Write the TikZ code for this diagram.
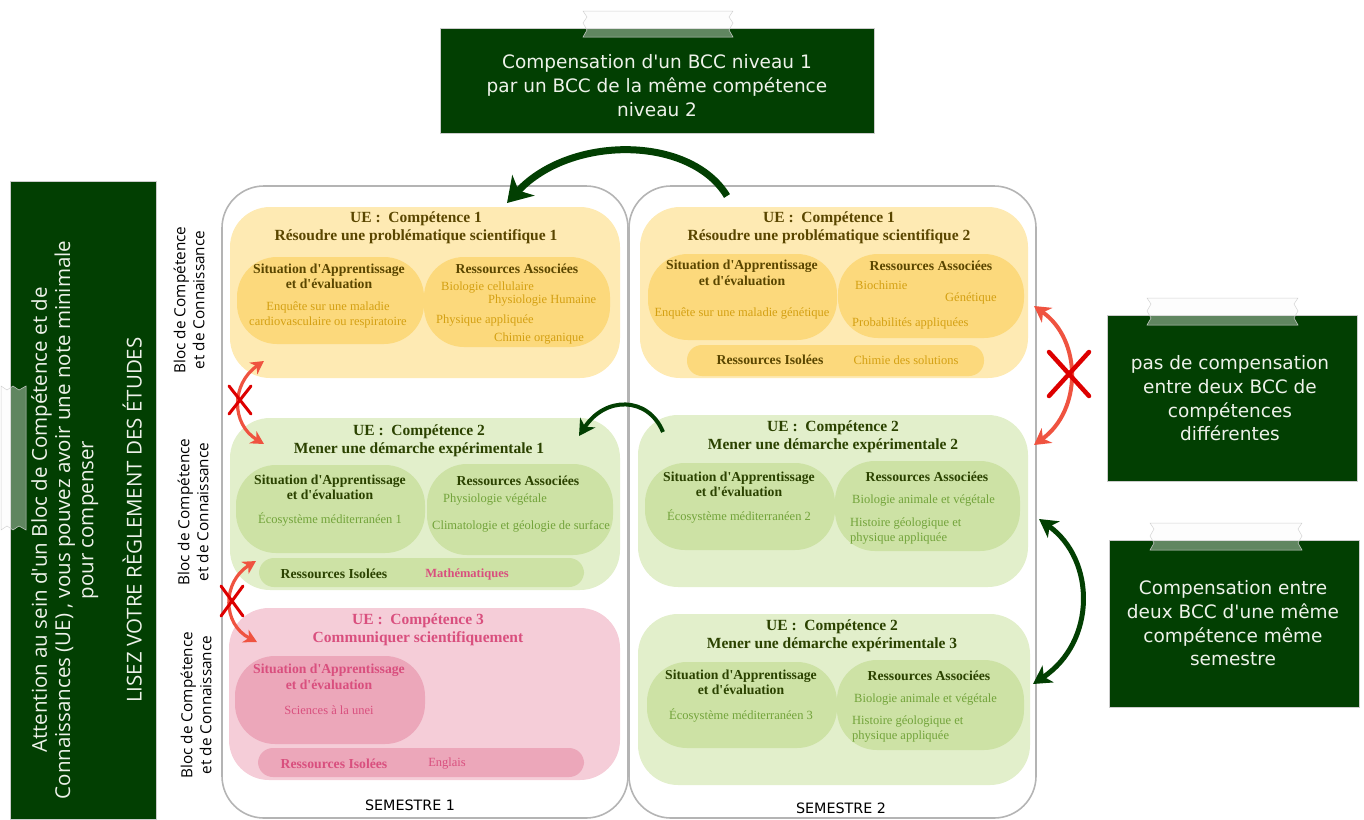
\documentclass[tikz,border=0pt]{standalone}
\usepackage{fontspec}
\setmainfont{Liberation Serif}
\setsansfont{DejaVu Sans}
\newfontfamily\opensans{Open Sans}
\usetikzlibrary{arrows.meta}
\newcommand\apos{\textquotesingle}
\definecolor{dkgreen}{HTML}{023F02}
\definecolor{boxtext}{HTML}{EEF2EA}
\definecolor{yout}{HTML}{FEEAB3}
\definecolor{yin}{HTML}{FCD97C}
\definecolor{ytitle}{HTML}{5A4600}
\definecolor{yitem}{HTML}{D4A012}
\definecolor{gout}{HTML}{E2EFCB}
\definecolor{gin}{HTML}{CDE2A5}
\definecolor{gtitle}{HTML}{2B4200}
\definecolor{gitem}{HTML}{72A33A}
\definecolor{pout}{HTML}{F5CDD8}
\definecolor{pin}{HTML}{ECA7BA}
\definecolor{ptext}{HTML}{D94F7E}
\definecolor{redarrow}{HTML}{EF5340}
\definecolor{redx}{HTML}{DD0000}
\definecolor{semgrey}{HTML}{B4B4B4}
\newcommand\rbox[6]{\node[#6, minimum width={(#4-#2)*1pt}, minimum height={(#5-#3)*1pt}] (#1) at ({(#2+#4)/2},{(#3+#5)/2}) {};}
\tikzset{
  base/.style={inner sep=0pt, outer sep=0pt, draw=none},
  semester/.style={base, rectangle, rounded corners=42pt, draw=semgrey, line width=1.6pt},
  ueyel/.style={base, rectangle, rounded corners=40pt, fill=yout},
  yelin/.style={base, rectangle, rounded corners=40pt, fill=yin},
  yelri/.style={base, rectangle, rounded corners=15pt, fill=yin},
  uegrn/.style={base, rectangle, rounded corners=40pt, fill=gout},
  grnin/.style={base, rectangle, rounded corners=40pt, fill=gin},
  grnri/.style={base, rectangle, rounded corners=15pt, fill=gin},
  uepnk/.style={base, rectangle, rounded corners=40pt, fill=pout},
  pnkin/.style={base, rectangle, rounded corners=40pt, fill=pin},
  pnkri/.style={base, rectangle, rounded corners=15pt, fill=pin},
  darkbox/.style={base, rectangle, fill=dkgreen, draw=gray!40, line width=0.6pt},
  uetitle/.style={inner sep=0pt, align=center, font=\bfseries\fontsize{15.5}{18}\selectfont},
  lbl/.style={inner sep=0pt, align=center, font=\bfseries\fontsize{13.7}{15.5}\selectfont},
  itm/.style={inner sep=0pt, align=left, font=\fontsize{12.5}{15}\selectfont},
  itmc/.style={inner sep=0pt, align=center, font=\fontsize{12.5}{14.5}\selectfont},
  dtext/.style={inner sep=0pt, align=center, text=boxtext, font=\sffamily\fontsize{18.5}{23.7}\selectfont},
  bloc/.style={inner sep=0pt, align=center, rotate=90, font=\opensans\fontsize{15.3}{19}\selectfont},
  semlbl/.style={inner sep=0pt, font=\sffamily\fontsize{14.3}{16}\selectfont},
  tape/.style={fill=white!96!gray, fill opacity=0.38, draw=gray!35, draw opacity=1, line width=0.5pt},
  grarrow/.style={draw=dkgreen, line width=7pt, -{Stealth[length=24pt,width=30pt,inset=7pt]}},
  grarrowm/.style={draw=dkgreen, line width=4pt, -{Stealth[length=16pt,width=18pt,inset=5pt]}},
  grarrowd/.style={draw=dkgreen, line width=5pt, {Stealth[length=18pt,width=20pt,inset=5pt]}-{Stealth[length=18pt,width=20pt,inset=5pt]}},
  rdarrow/.style={draw=redarrow, line width=3.2pt, {Stealth[length=13pt,width=14pt,inset=4pt]}-{Stealth[length=13pt,width=14pt,inset=4pt]}},
  rdarrowb/.style={draw=redarrow, line width=4pt, {Stealth[length=16pt,width=18pt,inset=5pt]}-{Stealth[length=16pt,width=18pt,inset=5pt]}},
  crossx/.style={draw=redx, line width=3pt, line cap=round},
  crossxb/.style={draw=redx, line width=4.5pt, line cap=round},
}
\begin{document}
\begin{tikzpicture}[x=1pt,y=-1pt]
\useasboundingbox (0,0) rectangle (1364,819);

% semesters
\rbox{sem1}{222}{186}{628}{818}{semester}
\rbox{sem2}{629}{186}{1036}{818}{semester}
\node[semlbl] (s1lbl) at (410,805) {SEMESTRE 1};
\node[semlbl] (s2lbl) at (841,808) {SEMESTRE 2};

% ===== UE1 left
\rbox{ueA}{230}{207}{620}{378}{ueyel}
\rbox{ueAsa}{237}{257}{424}{344}{yelin}
\rbox{ueAra}{424}{257}{610}{347}{yelin}
\node[uetitle, text=ytitle] (ueAt) at (416,228) {UE :\ \ Compétence 1\\Résoudre une problématique scientifique 1};
\node[lbl, text=ytitle] (ueAsal) at (329,276.5) {Situation d\apos{}Apprentissage\\et d\apos{}évaluation};
\node[itmc, text=yitem] (ueAsai) at (328,315) {Enquête sur une maladie\\cardiovasculaire ou respiratoire};
\node[lbl, text=ytitle] (ueAral) at (517,269) {Ressources Associées};
\node[itm, text=yitem, anchor=west] (ueAr1) at (441,288) {Biologie cellulaire};
\node[itm, text=yitem, anchor=west] (ueAr2) at (488,301) {Physiologie Humaine};
\node[itm, text=yitem, anchor=west] (ueAr3) at (436,320) {Physique appliquée};
\node[itm, text=yitem, anchor=west] (ueAr4) at (494,339) {Chimie organique};

% ===== UE1 right
\rbox{ueB}{640}{207}{1028}{378}{ueyel}
\rbox{ueBsa}{648}{254}{837}{340}{yelin}
\rbox{ueBra}{838}{254}{1024}{338}{yelin}
\rbox{ueBri}{687}{345}{984}{376}{yelri}
\node[uetitle, text=ytitle] (ueBt) at (829,228) {UE :\ \ Compétence 1\\Résoudre une problématique scientifique 2};
\node[lbl, text=ytitle] (ueBsal) at (742,273) {Situation d\apos{}Apprentissage\\et d\apos{}évaluation};
\node[itmc, text=yitem] (ueBsai) at (742,313) {Enquête sur une maladie génétique};
\node[lbl, text=ytitle] (ueBral) at (931,266) {Ressources Associées};
\node[itm, text=yitem, anchor=west] (ueBr1) at (855,285) {Biochimie};
\node[itm, text=yitem, anchor=west] (ueBr2) at (945,298) {Génétique};
\node[itm, text=yitem, anchor=west] (ueBr3) at (852,323) {Probabilités appliquées};
\node[lbl, text=ytitle] (ueBril) at (770,360) {Ressources Isolées};
\node[itmc, text=yitem] (ueBrii) at (906,360) {Chimie des solutions};

% ===== UE2 left
\rbox{ueC}{230}{418}{620}{590}{uegrn}
\rbox{ueCsa}{236}{465}{425}{553}{grnin}
\rbox{ueCra}{427}{464}{613}{555}{grnin}
\rbox{ueCri}{259}{558}{584}{587}{grnri}
\node[uetitle, text=gtitle] (ueCt) at (419,440.5) {UE :\ \ Compétence 2\\Mener une démarche expérimentale 1};
\node[lbl, text=gtitle] (ueCsal) at (330,487.5) {Situation d\apos{}Apprentissage\\et d\apos{}évaluation};
\node[itmc, text=gitem] (ueCsai) at (330,519) {Écosystème méditerranéen 1};
\node[lbl, text=gtitle] (ueCral) at (518,481) {Ressources Associées};
\node[itm, text=gitem, anchor=west] (ueCr1) at (443,499) {Physiologie végétale};
\node[itm, text=gitem, anchor=west] (ueCr2) at (432,526) {Climatologie et géologie de surface};
\node[lbl, text=gtitle] (ueCril) at (334,574) {Ressources Isolées};
\node[itmc, text=ptext] (ueCrii) at (467,574) {\bfseries Mathématiques};

% ===== UE2 right (2)
\rbox{ueD}{638}{415}{1028}{587}{uegrn}
\rbox{ueDsa}{645}{463}{835}{550}{grnin}
\rbox{ueDra}{835}{461}{1020}{551}{grnin}
\node[uetitle, text=gtitle] (ueDt) at (833,436.5) {UE :\ \ Compétence 2\\Mener une démarche expérimentale 2};
\node[lbl, text=gtitle] (ueDsal) at (739,484.5) {Situation d\apos{}Apprentissage\\et d\apos{}évaluation};
\node[itmc, text=gitem] (ueDsai) at (739,516) {Écosystème méditerranéen 2};
\node[lbl, text=gtitle] (ueDral) at (927,477) {Ressources Associées};
\node[itm, text=gitem, anchor=west] (ueDr1) at (852,500) {Biologie animale et végétale};
\node[itm, text=gitem, anchor=west] (ueDr2) at (850,530.5) {Histoire géologique et\\physique appliquée};

% ===== UE2 right (3)
\rbox{ueE}{638}{614}{1030}{785}{uegrn}
\rbox{ueEsa}{647}{662}{837}{748}{grnin}
\rbox{ueEra}{837}{660}{1024}{750}{grnin}
\node[uetitle, text=gtitle] (ueEt) at (832,636) {UE :\ \ Compétence 2\\Mener une démarche expérimentale 3};
\node[lbl, text=gtitle] (ueEsal) at (741,682.5) {Situation d\apos{}Apprentissage\\et d\apos{}évaluation};
\node[itmc, text=gitem] (ueEsai) at (741,715) {Écosystème méditerranéen 3};
\node[lbl, text=gtitle] (ueEral) at (929,676) {Ressources Associées};
\node[itm, text=gitem, anchor=west] (ueEr1) at (854,699) {Biologie animale et végétale};
\node[itm, text=gitem, anchor=west] (ueEr2) at (852,728.5) {Histoire géologique et\\physique appliquée};

% ===== UE3 left
\rbox{ueF}{229}{608}{620}{780}{uepnk}
\rbox{ueFsa}{235}{656}{425}{744}{pnkin}
\rbox{ueFri}{258}{748}{584}{777}{pnkri}
\node[uetitle, text=ptext] (ueFt) at (418,629.5) {UE :\ \ Compétence 3\\Communiquer scientifiquement};
\node[lbl, text=ptext] (ueFsal) at (329,677) {Situation d\apos{}Apprentissage\\et d\apos{}évaluation};
\node[itmc, text=ptext] (ueFsai) at (329,710) {Sciences à la unei};
\node[lbl, text=ptext] (ueFril) at (334,764) {Ressources Isolées};
\node[itmc, text=ptext] (ueFrii) at (447,764) {Englais};

% ===== Bloc labels
\node[bloc] (bloc1) at (189,300) {Bloc de Compétence\\et de Connaissance};
\node[bloc] (bloc2) at (193,512) {Bloc de Compétence\\et de Connaissance};
\node[bloc] (bloc3) at (196,705) {Bloc de Compétence\\et de Connaissance};

% ===== dark boxes
\rbox{topbox}{440}{28}{874}{133}{darkbox}
\draw[tape] (583,11) -- (733,11) -- (729,17) -- (733,23) -- (729,30) -- (733,37) -- (583,37) -- (587,30) -- (583,23) -- (587,17) -- cycle;
\node[dtext, font=\sffamily\fontsize{18.5}{24}\selectfont] (toptext) at (657,86) {Compensation d\apos{}un BCC niveau 1\\par un BCC de la même compétence\\niveau 2};

\rbox{leftbox}{10}{181}{156}{819}{darkbox}
\draw[tape] (1,386) -- (1,530) -- (7,526) -- (13,530) -- (19,526) -- (26,530) -- (26,386) -- (19,390) -- (13,386) -- (7,390) -- cycle;
\node[inner sep=0pt, align=center, rotate=90, text=boxtext, font=\opensans\fontsize{20.5}{23.3}\selectfont] (lefttext) at (86.5,520) {Attention au sein d\apos{}un Bloc de Compétence et de\\Connaissances (UE) , vous pouvez avoir une note minimale\\pour compenser\\[23.3pt]LISEZ VOTRE RÈGLEMENT DES ÉTUDES};

\rbox{boxA}{1107}{315}{1357}{481}{darkbox}
\draw[tape] (1147,298) -- (1298,298) -- (1294,304) -- (1298,311) -- (1294,318) -- (1298,325) -- (1147,325) -- (1151,318) -- (1147,311) -- (1151,304) -- cycle;
\node[dtext] (boxAtext) at (1230,398.5) {pas de compensation\\entre deux BCC de\\compétences\\différentes};

\rbox{boxB}{1109}{540}{1359}{707}{darkbox}
\draw[tape] (1150,523) -- (1302,523) -- (1298,529) -- (1302,536) -- (1298,543) -- (1302,550) -- (1150,550) -- (1154,543) -- (1150,536) -- (1154,529) -- cycle;
\node[dtext] (boxBtext) at (1233,623.5) {Compensation entre\\deux BCC d\apos{}une même\\compétence même\\semestre};

% ===== arrow endpoints
\coordinate (gA1) at (727,196);
\coordinate (gA2) at (507,203);
\coordinate (gB1) at (663,432);
\coordinate (gB2) at (579,436);
\coordinate (gC1) at (1039,519);
\coordinate (gC2) at (1033,684);
\coordinate (rA1) at (1034,306);
\coordinate (rA2) at (1034,445);
\coordinate (rB1) at (264,361);
\coordinate (rB2) at (264,444);
\coordinate (rC1) at (256,561);
\coordinate (rC2) at (257,642);
\coordinate (xA) at (1069,374);
\coordinate (xB) at (240,400);
\coordinate (xC) at (232,601);

% ===== arrows
\draw[grarrow] (gA1) .. controls (690,135) and (570,135) .. (gA2);
\draw[grarrowm] (gB1) .. controls (648,396) and (605,396) .. (gB2);
\draw[grarrowd] (gC1) .. controls (1096,560) and (1096,642) .. (gC2);
\draw[rdarrowb] (rA1) .. controls (1082,340) and (1082,410) .. (rA2);
\draw[rdarrow] (rB1) .. controls (231,384) and (231,424) .. (rB2);
\draw[rdarrow] (rC1) .. controls (222,582) and (222,624) .. (rC2);

% ===== crosses
\draw[crossxb] ([shift={(-20,-22)}]xA) -- ([shift={(20,22)}]xA) ([shift={(-20,22)}]xA) -- ([shift={(20,-22)}]xA);
\draw[crossx] ([shift={(-11,-14)}]xB) -- ([shift={(11,14)}]xB) ([shift={(-11,14)}]xB) -- ([shift={(11,-14)}]xB);
\draw[crossx] ([shift={(-11,-15)}]xC) -- ([shift={(11,15)}]xC) ([shift={(-11,15)}]xC) -- ([shift={(11,-15)}]xC);
\end{tikzpicture}
\end{document}
